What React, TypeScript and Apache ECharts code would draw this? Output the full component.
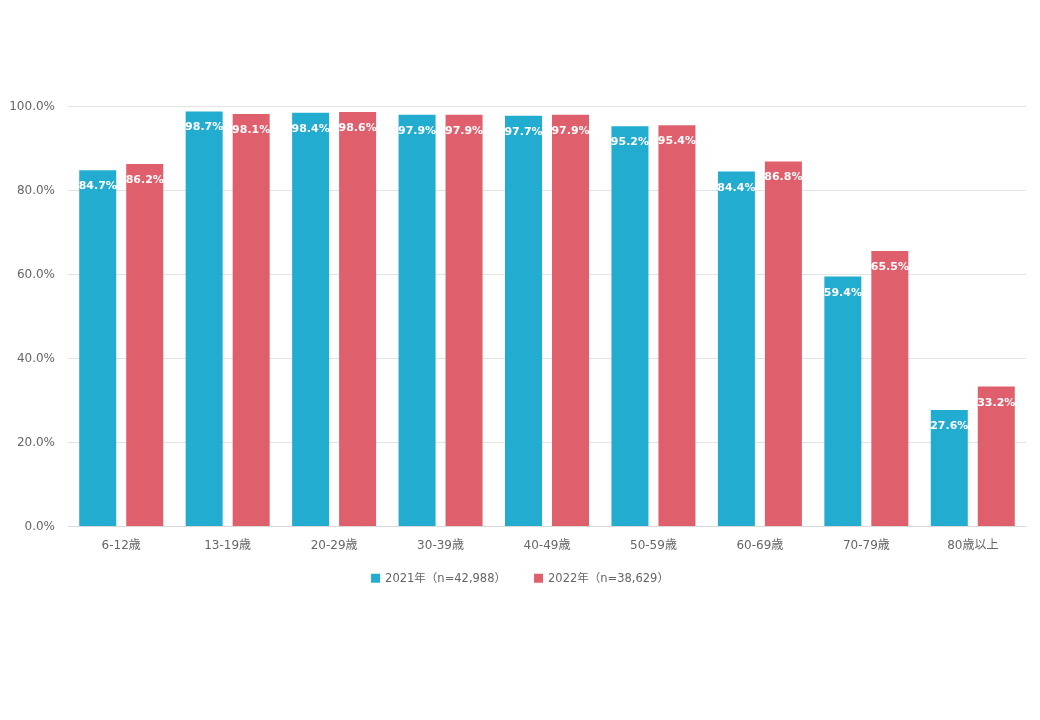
import React, { useEffect, useRef } from "react";
import * as echarts from "echarts";

const categories = ["6-12歳", "13-19歳", "20-29歳", "30-39歳", "40-49歳", "50-59歳", "60-69歳", "70-79歳", "80歳以上"];
const series2021 = [84.7, 98.7, 98.4, 97.9, 97.7, 95.2, 84.4, 59.4, 27.6];
const series2022 = [86.2, 98.1, 98.6, 97.9, 97.9, 95.4, 86.8, 65.5, 33.2];
const seriesNames = ["2021年（n=42,988）", "2022年（n=38,629）"];
const colors = ["#22ACCF", "#E05F6D"];

const FONT = "'DejaVu Sans', 'Noto Sans CJK JP', sans-serif";

export default function App() {
  const ref = useRef<HTMLDivElement>(null);
  useEffect(() => {
    if (!ref.current) return;
    const chart = echarts.init(ref.current, undefined, { renderer: "svg" });
    const label = {
      show: true,
      position: "insideTop",
      distance: 10,
      color: "#fff",
      fontWeight: "bold",
      fontSize: 11,
      fontFamily: "'DejaVu Sans', sans-serif",
      formatter: (p: any) => p.value.toFixed(1) + "%",
    };
    chart.setOption({
      animation: false,
      color: colors,
      textStyle: { fontFamily: FONT },
      grid: { left: 68, right: 14, top: 106, bottom: 194 },
      legend: {
        bottom: 131,
        left: "center",
        icon: "rect",
        itemWidth: 9,
        itemHeight: 9,
        itemGap: 28,
        textStyle: { color: "#666", fontSize: 11.5, fontFamily: FONT },
        data: seriesNames,
      },
      xAxis: {
        type: "category",
        data: categories,
        axisTick: { show: false },
        axisLine: { lineStyle: { color: "#d9d9d9" } },
        axisLabel: { color: "#666", fontSize: 12, margin: 13, fontFamily: FONT },
      },
      yAxis: {
        type: "value",
        min: 0,
        max: 100,
        interval: 20,
        axisLabel: { color: "#666", fontSize: 12, margin: 13, fontFamily: FONT, formatter: (v: number) => v.toFixed(1) + "%" },
        splitLine: { lineStyle: { color: "#e3e3e3" } },
        axisLine: { show: false },
        axisTick: { show: false },
      },
      series: [
        { name: seriesNames[0], type: "bar", data: series2021, barWidth: 37, barGap: "27%", label },
        { name: seriesNames[1], type: "bar", data: series2022, barWidth: 37, barGap: "27%", label },
      ],
    });
    return () => chart.dispose();
  }, []);
  return <div ref={ref} style={{ position: "fixed", left: 0, top: 0, width: 1040, height: 720 }} />;
}
